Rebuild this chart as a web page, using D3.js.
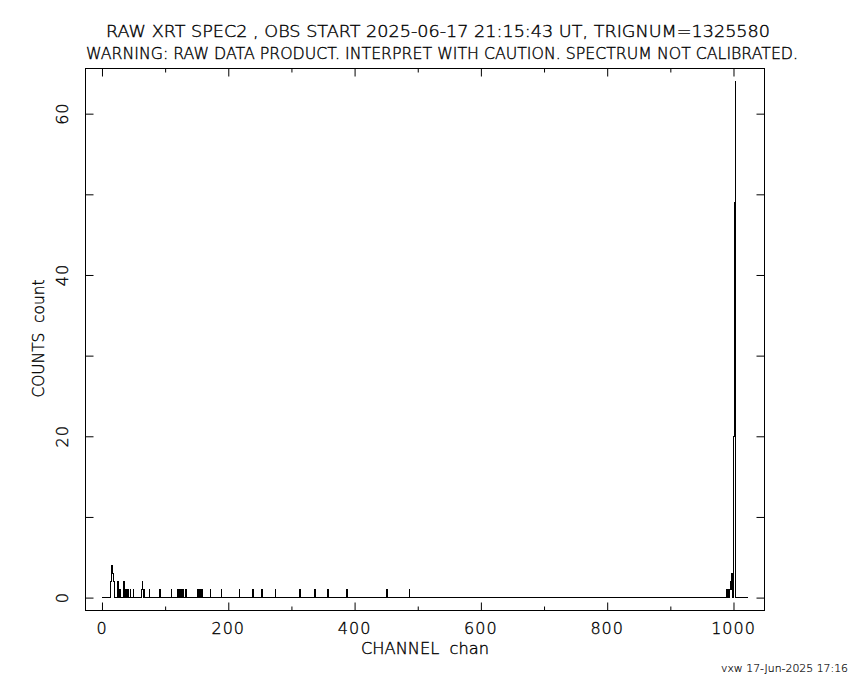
<!DOCTYPE html>
<html>
<head>
<meta charset="utf-8">
<script src="https://cdn.jsdelivr.net/npm/d3@7/dist/d3.min.js"></script>
<style>
  html, body { margin: 0; padding: 0; background: #fff; }
  svg { display: block; }
  text { font-family: "DejaVu Sans", "Liberation Sans", Arial, sans-serif; font-weight: 200; fill: #000; stroke: #000; stroke-width: 0.35px; white-space: pre; }
</style>
</head>
<body>
<script>
// ---- data ----
const titleLines = [
  "RAW XRT SPEC2 , OBS START 2025-06-17 21:15:43 UT, TRIGNUM=1325580",
  "WARNING: RAW DATA PRODUCT. INTERPRET WITH CAUTION. SPECTRUM NOT CALIBRATED."
];
const xLabel = "CHANNEL  chan";
const yLabel = "COUNTS  count";
const footer = "vxw 17-Jun-2025 17:16";
const nChannels = 1024;
// non-zero channels and their counts (all other channels are 0)
const spikeChannels = [14, 15, 16, 17, 18, 19, 20, 25, 27, 29, 35, 37, 39, 41, 45, 50,
  63, 64, 65, 67, 75, 92, 110, 120, 122, 124, 126, 128, 133, 152, 155, 158, 172, 189,
  218, 239, 253, 275, 314, 337, 358, 388, 451, 487,
  989, 991, 992, 994, 995, 996, 997, 998, 1001, 1002, 1003];
const spikeCounts = [2, 2, 4, 3, 2, 2, 1, 2, 1, 1, 2, 1, 1, 1, 1, 1,
  1, 2, 1, 1, 1, 1, 1, 1, 1, 1, 1, 1, 1, 1, 1, 1, 1, 1,
  1, 1, 1, 1, 1, 1, 1, 1, 1, 1,
  1, 1, 1, 1, 2, 1, 2, 3, 20, 49, 64];
const xMajorTicks = [0, 200, 400, 600, 800, 1000];
const xMinorTicks = [100, 300, 500, 700, 900];
const yMajorTicks = [0, 20, 40, 60];
const yMinorTicks = [10, 30, 50];
const xDomain = [-26.1, 1049.1];
const yDomain = [-1.6, 65.6];

// ---- build ----
const counts = new Array(nChannels).fill(0);
spikeChannels.forEach((c, i) => { counts[c] = spikeCounts[i]; });
const series = counts.map((v, c) => ({ c, v }));

const W = 850, H = 680;
const L = 85.5, R = 764.5, T = 68.5, B = 610.5;

const svg = d3.select("body").append("svg").attr("width", W).attr("height", H);

const x = d3.scaleLinear().domain(xDomain).range([L, R]);
const y = d3.scaleLinear().domain(yDomain).range([B, T]);

// data step line
const line = d3.line().x(d => x(d.c)).y(d => y(d.v)).curve(d3.curveStep);
svg.append("path").datum(series)
  .attr("d", line).attr("fill", "none").attr("stroke", "#000").attr("stroke-width", 1)
  .attr("shape-rendering", "crispEdges");

// axes helper
function styleAxis(g) {
  g.select(".domain").remove();
  g.selectAll(".tick line").attr("stroke", "#000").attr("stroke-width", 1);
  g.selectAll(".tick text").remove();
}
// bottom
svg.append("g").attr("transform", `translate(0,${B})`)
  .call(d3.axisBottom(x).tickValues(xMajorTicks).tickSizeInner(-8).tickSizeOuter(0)).call(styleAxis);
svg.append("g").attr("transform", `translate(0,${B})`)
  .call(d3.axisBottom(x).tickValues(xMinorTicks).tickSizeInner(-4).tickSizeOuter(0)).call(styleAxis);
// top
svg.append("g").attr("transform", `translate(0,${T})`)
  .call(d3.axisTop(x).tickValues(xMajorTicks).tickSizeInner(-8).tickSizeOuter(0)).call(styleAxis);
svg.append("g").attr("transform", `translate(0,${T})`)
  .call(d3.axisTop(x).tickValues(xMinorTicks).tickSizeInner(-4).tickSizeOuter(0)).call(styleAxis);
// left
svg.append("g").attr("transform", `translate(${L},0)`)
  .call(d3.axisLeft(y).tickValues(yMajorTicks.concat(yMinorTicks)).tickSizeInner(-8).tickSizeOuter(0)).call(styleAxis);
// right
svg.append("g").attr("transform", `translate(${R},0)`)
  .call(d3.axisRight(y).tickValues(yMajorTicks.concat(yMinorTicks)).tickSizeInner(-8).tickSizeOuter(0)).call(styleAxis);

// frame
svg.append("rect").attr("x", L).attr("y", T).attr("width", R - L).attr("height", B - T)
  .attr("fill", "none").attr("stroke", "#000").attr("stroke-width", 1);

// tick labels
svg.selectAll("text.xl").data(xMajorTicks).enter().append("text")
  .attr("x", d => x(d)).attr("y", 634).attr("text-anchor", "middle")
  .style("font-size", "16px").style("letter-spacing", "1px").text(d => d);
svg.selectAll("text.yl").data(yMajorTicks).enter().append("text")
  .attr("transform", d => `translate(68,${y(d)}) rotate(-90)`)
  .attr("text-anchor", "middle").style("font-size", "16px").style("letter-spacing", "1px").text(d => d);

// axis titles
svg.append("text").attr("x", 425).attr("y", 654).attr("text-anchor", "middle")
  .attr("textLength", 128).attr("lengthAdjust", "spacingAndGlyphs")
  .style("font-size", "15px").text(xLabel);
svg.append("text").attr("transform", `translate(44,${(T + B) / 2 - 1}) rotate(-90)`)
  .attr("text-anchor", "middle")
  .attr("textLength", 118).attr("lengthAdjust", "spacingAndGlyphs")
  .style("font-size", "15px").text(yLabel);

// titles
svg.append("text").attr("x", 438).attr("y", 37).attr("text-anchor", "middle")
  .attr("textLength", 664).attr("lengthAdjust", "spacingAndGlyphs")
  .style("font-size", "15px").text(titleLines[0]);
svg.append("text").attr("x", 442).attr("y", 59).attr("text-anchor", "middle")
  .attr("textLength", 712).attr("lengthAdjust", "spacingAndGlyphs")
  .style("font-size", "15px").text(titleLines[1]);

// footer
svg.append("text").attr("x", 848).attr("y", 672).attr("text-anchor", "end")
  .attr("textLength", 127).attr("lengthAdjust", "spacingAndGlyphs")
  .style("font-size", "11px").style("stroke-width", "0.2px").text(footer);
</script>
</body>
</html>
